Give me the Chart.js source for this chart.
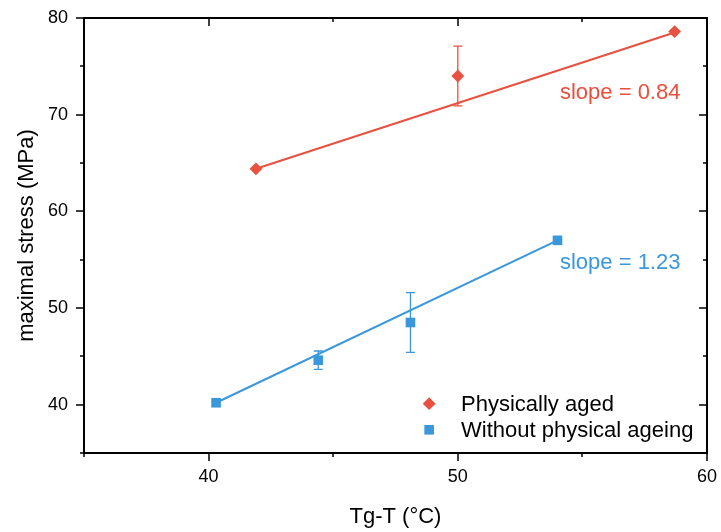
<!DOCTYPE html>
<html>
<head>
<meta charset="utf-8">
<script src="https://cdn.jsdelivr.net/npm/chart.js@4.4.0/dist/chart.umd.min.js"></script>
<style>
  html, body { margin: 0; padding: 0; background: #fff; }
</style>
</head>
<body>
<canvas id="myChart" width="721" height="532"></canvas>
<script>
// values
const agedX = [41.9, 50.0, 58.7];
const agedY = [64.4, 74.0, 78.6];
const agedErr = [0, 3.1, 0];

const plainX = [40.3, 44.4, 48.1, 54.0];
const plainY = [40.2, 44.6, 48.5, 57.0];
const plainErr = [0, 0.95, 3.1, 0];

// linear fits (end points)
const agedFitX = [41.9, 58.7];
const agedFitY = [64.4, 78.5];
const plainFitX = [40.3, 54.0];
const plainFitY = [40.2, 57.0];

const seriesNames = ['Physically aged', 'Without physical ageing'];
const slopeTexts = ['slope = 0.84', 'slope = 1.23'];

const xTicks = [40, 50, 60];
const xMinor = [35, 45, 55];
const yTicks = [40, 50, 60, 70, 80];
const yMinor = [35, 45, 55, 65, 75];

const RED = '#e8503f';
const BLUE = '#3a97dc';
const FONT = "'Liberation Sans', Arial, sans-serif";

function pts(xs, ys, errs) {
    return xs.map((x, i) => ({ x: x, y: ys[i], err: errs ? errs[i] : 0 }));
}

// error bars, drawn under the markers
const errorBars = {
    id: 'errorBars',
    beforeDatasetsDraw(chart) {
        const ctx = chart.ctx;
        const xs = chart.scales.x, ys = chart.scales.y;
        chart.data.datasets.forEach(ds => {
            if (!ds.withErr) return;
            ctx.save();
            ctx.strokeStyle = ds.borderColor;
            ctx.lineWidth = 1.3;
            ds.data.forEach(p => {
                if (!p.err) return;
                const px = xs.getPixelForValue(p.x);
                const top = ys.getPixelForValue(p.y + p.err);
                const bot = ys.getPixelForValue(p.y - p.err);
                ctx.beginPath();
                ctx.moveTo(px, top); ctx.lineTo(px, bot);
                ctx.moveTo(px - 4.5, top); ctx.lineTo(px + 4.5, top);
                ctx.moveTo(px - 4.5, bot); ctx.lineTo(px + 4.5, bot);
                ctx.stroke();
            });
            ctx.restore();
        });
    }
};

// box frame with ticks: outward on left/bottom, inward on top/right
const frame = {
    id: 'frame',
    afterDraw(chart) {
        const ctx = chart.ctx;
        const a = chart.chartArea;
        const xs = chart.scales.x, ys = chart.scales.y;
        ctx.save();
        ctx.strokeStyle = '#000';
        ctx.lineWidth = 2;
        ctx.strokeRect(a.left, a.top, a.right - a.left, a.bottom - a.top);
        ctx.beginPath();
        const tx = (v, len) => {
            const p = Math.round(xs.getPixelForValue(v));
            ctx.moveTo(p, a.bottom); ctx.lineTo(p, a.bottom + len);
            ctx.moveTo(p, a.top); ctx.lineTo(p, a.top + len);
        };
        const ty = (v, len) => {
            const p = Math.round(ys.getPixelForValue(v));
            ctx.moveTo(a.left, p); ctx.lineTo(a.left - len, p);
            ctx.moveTo(a.right, p); ctx.lineTo(a.right - len, p);
        };
        xTicks.forEach(v => tx(v, 8));
        xMinor.forEach(v => tx(v, 4));
        yTicks.forEach(v => ty(v, 8));
        yMinor.forEach(v => ty(v, 4));
        ctx.lineWidth = 1.5;
        ctx.stroke();
        ctx.restore();
    }
};

// slope labels and the legend inside the plot
const notes = {
    id: 'notes',
    afterDraw(chart) {
        const ctx = chart.ctx;
        const xs = chart.scales.x, ys = chart.scales.y;
        ctx.save();
        ctx.font = '22px ' + FONT;
        ctx.textBaseline = 'middle';
        ctx.textAlign = 'left';

        ctx.fillStyle = RED;
        ctx.fillText(slopeTexts[0], xs.getPixelForValue(54.1), ys.getPixelForValue(72.25));
        ctx.fillStyle = BLUE;
        ctx.fillText(slopeTexts[1], xs.getPixelForValue(54.1), ys.getPixelForValue(54.7));

        const lx = xs.getPixelForValue(48.85);
        const tx = xs.getPixelForValue(50.13);
        const rows = [ys.getPixelForValue(40.1), ys.getPixelForValue(37.4)];
        [0, 1].forEach(i => {
            const ds = chart.data.datasets[i];
            ctx.fillStyle = ds.backgroundColor;
            ctx.strokeStyle = ds.backgroundColor;
            Chart.helpers.drawPoint(ctx, { pointStyle: ds.pointStyle, radius: ds.pointRadius, rotation: 0, borderWidth: 0 }, lx, rows[i]);
            ctx.fillStyle = '#000';
            ctx.fillText(seriesNames[i], tx, rows[i] + 1);
        });
        ctx.restore();
    }
};

const ctx = document.getElementById('myChart').getContext('2d');
const myChart = new Chart(ctx, {
    type: 'scatter',
    data: {
        datasets: [
            {
                label: seriesNames[0],
                data: pts(agedX, agedY, agedErr),
                withErr: true,
                pointStyle: 'rectRot',
                pointRadius: 6.4,
                backgroundColor: RED,
                borderColor: RED,
                borderWidth: 0
            },
            {
                label: seriesNames[1],
                data: pts(plainX, plainY, plainErr),
                withErr: true,
                pointStyle: 'rect',
                pointRadius: 6.8,
                backgroundColor: BLUE,
                borderColor: BLUE,
                borderWidth: 0
            },
            {
                label: 'fit aged',
                data: pts(agedFitX, agedFitY),
                showLine: true,
                pointRadius: 0,
                borderColor: RED,
                borderWidth: 2
            },
            {
                label: 'fit plain',
                data: pts(plainFitX, plainFitY),
                showLine: true,
                pointRadius: 0,
                borderColor: BLUE,
                borderWidth: 2
            }
        ]
    },
    options: {
        responsive: false,
        animation: false,
        layout: { padding: { top: 18, right: 14, left: 0, bottom: 0 } },
        plugins: {
            legend: { display: false },
            tooltip: { enabled: false }
        },
        scales: {
            x: {
                type: 'linear',
                min: 35,
                max: 60,
                afterBuildTicks: s => { s.ticks = xTicks.map(v => ({ value: v })); },
                afterFit: s => { s.height = 79; s.paddingLeft = 0; s.paddingRight = 0; },
                grid: { display: false, drawTicks: false },
                border: { display: false },
                ticks: { padding: 13, color: '#000', font: { family: FONT, size: 18 } },
                title: {
                    display: true,
                    text: 'Tg-T (°C)',
                    color: '#000',
                    font: { family: FONT, size: 22 },
                    padding: { top: 0, bottom: 2 }
                }
            },
            y: {
                type: 'linear',
                min: 35,
                max: 80,
                afterBuildTicks: s => { s.ticks = yTicks.map(v => ({ value: v })); },
                afterFit: s => { s.width = 84; s.paddingTop = 0; s.paddingBottom = 0; },
                grid: { display: false, drawTicks: false },
                border: { display: false },
                ticks: { padding: 16, color: '#000', font: { family: FONT, size: 18 } },
                title: {
                    display: true,
                    text: 'maximal stress (MPa)',
                    color: '#000',
                    font: { family: FONT, size: 22 },
                    padding: { top: 14, bottom: 0 }
                }
            }
        }
    },
    plugins: [errorBars, frame, notes]
});
</script>
</body>
</html>
